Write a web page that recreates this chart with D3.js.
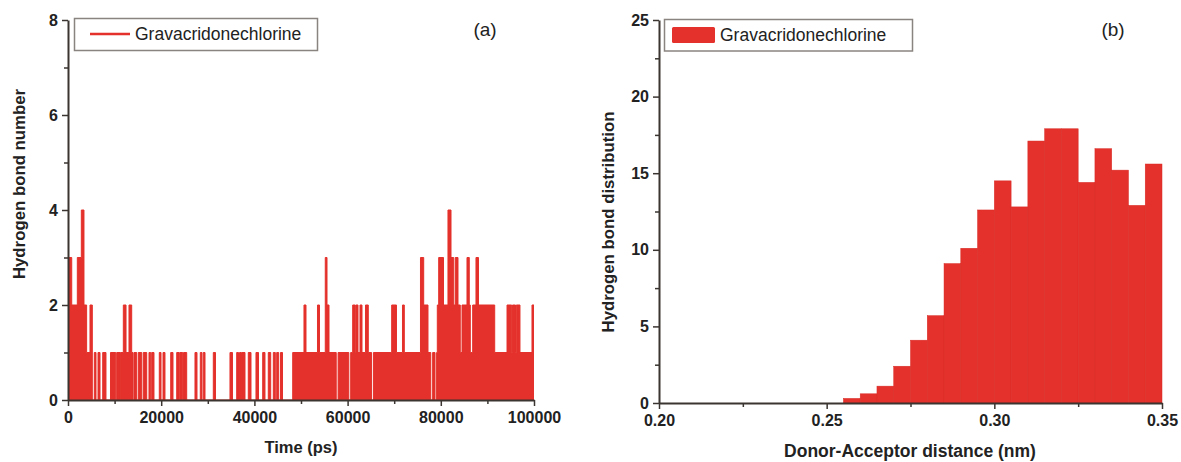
<!DOCTYPE html>
<html>
<head>
<meta charset="utf-8">
<script src="https://cdn.jsdelivr.net/npm/d3@7"></script>
<style>
  html, body { margin: 0; padding: 0; background: #fff; }
  svg { display: block; }
  .tick text { font-family: "Liberation Sans", Arial, sans-serif; font-weight: bold; font-size: 16px; fill: #222; }
  .axis path, .axis line { stroke: #3a3531; }
</style>
</head>
<body>
<svg id="chart" width="1181" height="462"></svg>
<script>
// ---- Panel (a): hydrogen bond count over the trajectory (step series) ----
const stepTime = [
  0, 800, 2000, 2860, 3430, 4000, 4720, 5220, 5640, 6010, 6440, 6870, 7450, 8150,
  9120, 10240, 10450, 11220, 11310, 11870, 12450, 13090, 13670, 13950, 14160, 14740,
  15090, 15820, 16160, 16890, 17380, 17750, 17960, 18450, 19590, 19960, 20390, 20810,
  22040, 22530, 23330, 23880, 24030, 24610, 24790, 25470, 27250, 27680, 28390, 28750,
  29030, 29400, 31180, 31650, 34760, 35300, 36200, 36590, 36800, 37230, 37340, 37980,
  38690, 39270, 40340, 40880, 41780, 42270, 42980, 43500, 44060, 44490, 44780, 45210,
  45600, 46030, 48220, 50640, 51070, 53540, 53970, 55210, 55580, 56010, 57560, 57960,
  60260, 60660, 61090, 61590, 61740, 62230, 62660, 63090, 63840, 64440, 65140, 65540,
  69460, 70490, 71780, 72170, 75640, 76330, 77250, 77850, 78250, 78760, 79100, 79250,
  79550, 80580, 81540, 82190, 82770, 83110, 83690, 84180, 84550, 85620, 86110, 86330,
  86840, 87550, 88090, 91570, 94210, 95210, 95380, 96030, 96200, 96990, 99570, 100000
];
const stepCount = [
  3, 2, 3, 4, 2, 1, 2, 0, 1, 0, 1, 0, 1, 0,
  1, 0, 1, 0, 1, 2, 1, 2, 1, 0, 1, 0,
  1, 0, 1, 0, 1, 0, 1, 0, 1, 0, 1, 0,
  1, 0, 1, 0, 1, 0, 1, 0, 1, 0, 1, 0,
  1, 0, 1, 0, 1, 0, 1, 0, 1, 0, 1, 0,
  1, 0, 1, 0, 1, 0, 1, 0, 1, 0, 1, 0,
  1, 0, 1, 2, 1, 2, 1, 3, 2, 1, 0, 1,
  0, 1, 2, 1, 2, 1, 2, 1, 2, 1, 0, 1,
  2, 1, 2, 1, 3, 2, 1, 0, 1, 0, 1, 2,
  3, 2, 4, 3, 2, 3, 2, 1, 2, 3, 2, 1,
  2, 3, 2, 1, 2, 1, 2, 1, 2, 1, 2, 2
];
const timeTicks = [0, 20000, 40000, 60000, 80000, 100000];
const countTicks = [0, 2, 4, 6, 8];

// ---- Panel (b): donor-acceptor distance histogram ----
const binStart = [
  0.255, 0.260, 0.265, 0.270, 0.275, 0.280, 0.285, 0.290, 0.295, 0.300,
  0.305, 0.310, 0.315, 0.320, 0.325, 0.330, 0.335, 0.340, 0.345
];
const binValue = [
  0.3, 0.6, 1.1, 2.4, 4.1, 5.7, 9.1, 10.1, 12.6, 14.5,
  12.8, 17.1, 17.9, 17.9, 14.4, 16.6, 15.2, 12.9, 15.6
];
const binWidth = 0.005;
const distTicks = [0.20, 0.25, 0.30, 0.35];
const distCountTicks = [0, 5, 10, 15, 20, 25];

const seriesName = "Gravacridonechlorine";
const red = "#e4312b";
const font = '"Liberation Sans", Arial, sans-serif';

const svg = d3.select("#chart");

function drawAxes(g, x, y, xMajor, xMinor, yMajor, yMinor, xFmt, yFmt) {
  const y0 = y.range()[0];
  const x0 = x.range()[0];
  // minor ticks first so the major axis line sits on top
  g.append("g").attr("class", "axis").attr("transform", `translate(0,${y0})`)
    .call(d3.axisBottom(x).tickValues(xMinor).tickSize(4).tickSizeOuter(0).tickFormat(""))
    .call(s => s.select(".domain").remove())
    .call(s => s.selectAll("line").attr("stroke-width", 1.5));
  g.append("g").attr("class", "axis").attr("transform", `translate(${x0},0)`)
    .call(d3.axisLeft(y).tickValues(yMinor).tickSize(4).tickSizeOuter(0).tickFormat(""))
    .call(s => s.select(".domain").remove())
    .call(s => s.selectAll("line").attr("stroke-width", 1.5));
  g.append("g").attr("class", "axis").attr("transform", `translate(0,${y0})`)
    .call(d3.axisBottom(x).tickValues(xMajor).tickSize(6).tickSizeOuter(0).tickPadding(6).tickFormat(xFmt))
    .call(s => s.select(".domain").attr("stroke-width", 2))
    .call(s => s.selectAll("line").attr("stroke-width", 1.5));
  g.append("g").attr("class", "axis").attr("transform", `translate(${x0},0)`)
    .call(d3.axisLeft(y).tickValues(yMajor).tickSize(6).tickSizeOuter(0).tickPadding(4).tickFormat(yFmt))
    .call(s => s.select(".domain").attr("stroke-width", 2))
    .call(s => s.selectAll("line").attr("stroke-width", 1.5));
}

// ================= Panel (a) =================
const gA = svg.append("g");
const xA = d3.scaleLinear().domain([0, 100000]).range([68, 534]);
const yA = d3.scaleLinear().domain([0, 8]).range([400, 20]);
const seriesA = stepTime.map((t, i) => ({ t, v: stepCount[i] }));

gA.append("path")
  .datum(seriesA)
  .attr("fill", red)
  .attr("d", d3.area().curve(d3.curveStepAfter).x(d => xA(d.t)).y0(yA(0)).y1(d => yA(d.v)));
gA.append("path")
  .datum(seriesA)
  .attr("fill", "none")
  .attr("stroke", red)
  .attr("stroke-width", 1)
  .attr("d", d3.line().curve(d3.curveStepAfter).x(d => xA(d.t)).y(d => yA(d.v)));

drawAxes(gA, xA, yA,
  timeTicks, [10000, 30000, 50000, 70000, 90000],
  countTicks, [1, 3, 5, 7],
  d3.format("d"), d3.format("d"));

gA.append("text").attr("x", 301).attr("y", 453).attr("text-anchor", "middle")
  .attr("font-family", font).attr("font-weight", "bold").attr("font-size", 16.5).attr("fill", "#222")
  .text("Time (ps)");
gA.append("text").attr("transform", "translate(25,184) rotate(-90)").attr("text-anchor", "middle")
  .attr("font-family", font).attr("font-weight", "bold").attr("font-size", 16.8).attr("fill", "#222")
  .text("Hydrogen bond number");

// legend (a)
gA.append("rect").attr("x", 74.5).attr("y", 18.5).attr("width", 243).attr("height", 32)
  .attr("fill", "#fff").attr("stroke", "#8a8480").attr("stroke-width", 1.5);
gA.append("line").attr("x1", 90).attr("x2", 130).attr("y1", 34).attr("y2", 34)
  .attr("stroke", red).attr("stroke-width", 2.5);
gA.append("text").attr("x", 135).attr("y", 40)
  .attr("font-family", font).attr("font-size", 17.5).attr("fill", "#222").text(seriesName);
gA.append("text").attr("x", 485).attr("y", 36).attr("text-anchor", "middle")
  .attr("font-family", font).attr("font-size", 19).attr("fill", "#222").text("(a)");

// ================= Panel (b) =================
const gB = svg.append("g");
const xB = d3.scaleLinear().domain([0.20, 0.35]).range([659, 1162]);
const yB = d3.scaleLinear().domain([0, 25]).range([403, 20]);

gB.selectAll("rect.bin")
  .data(binStart.map((s, i) => ({ s, v: binValue[i] })))
  .join("rect")
  .attr("class", "bin")
  .attr("x", d => xB(d.s))
  .attr("width", d => xB(d.s + binWidth) - xB(d.s))
  .attr("y", d => yB(d.v))
  .attr("height", d => yB(0) - yB(d.v))
  .attr("fill", red)
  .attr("stroke", "#d82a25")
  .attr("stroke-width", 0.5);

drawAxes(gB, xB, yB,
  distTicks, [0.225, 0.275, 0.325],
  distCountTicks, [2.5, 7.5, 12.5, 17.5, 22.5],
  d3.format(".2f"), d3.format("d"));

gB.append("text").attr("x", 910).attr("y", 457).attr("text-anchor", "middle")
  .attr("font-family", font).attr("font-weight", "bold").attr("font-size", 17.5).attr("fill", "#222")
  .text("Donor-Acceptor distance (nm)");
gB.append("text").attr("transform", "translate(614,222) rotate(-90)").attr("text-anchor", "middle")
  .attr("font-family", font).attr("font-weight", "bold").attr("font-size", 16.8).attr("fill", "#222")
  .text("Hydrogen bond distribution");

// legend (b)
gB.append("rect").attr("x", 664.5).attr("y", 19.5).attr("width", 248).attr("height", 31.5)
  .attr("fill", "#fff").attr("stroke", "#8a8480").attr("stroke-width", 1.5);
gB.append("rect").attr("x", 672).attr("y", 27).attr("width", 43).attr("height", 16).attr("rx", 1.5)
  .attr("fill", red);
gB.append("text").attr("x", 720).attr("y", 41)
  .attr("font-family", font).attr("font-size", 17.5).attr("fill", "#222").text(seriesName);
gB.append("text").attr("x", 1113).attr("y", 36).attr("text-anchor", "middle")
  .attr("font-family", font).attr("font-size", 19).attr("fill", "#222").text("(b)");
</script>
</body>
</html>
